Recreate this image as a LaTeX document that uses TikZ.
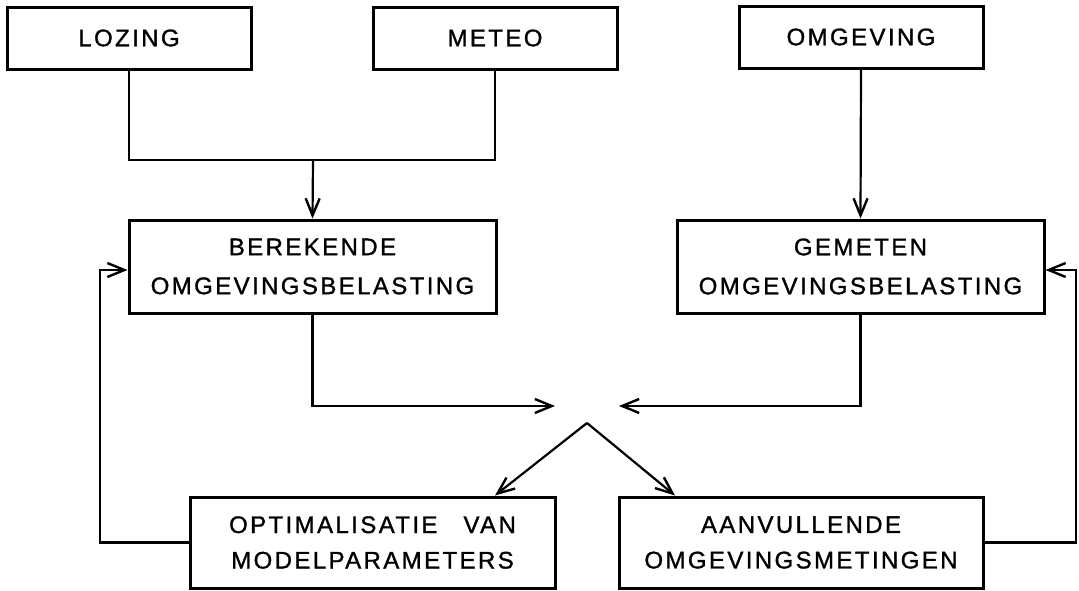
\documentclass[tikz,border=0pt]{standalone}
\usepackage{fontspec}
\newfontfamily\lab[LetterSpace=10,FakeBold=1.2]{Liberation Sans}
\usetikzlibrary{arrows.meta}
\begin{document}
\begin{tikzpicture}[x=1pt,y=-1pt,
  box/.style={draw, line width=3pt, rectangle, inner sep=0pt, align=center},
  topbox/.style={box, minimum width=244pt, minimum height=62pt, font={\lab\fontsize{24pt}{39pt}\selectfont}},
  midbox/.style={box, minimum width=367pt, minimum height=93pt, font={\lab\fontsize{24pt}{39pt}\selectfont}},
  botbox/.style={box, minimum height=91pt, font={\lab\fontsize{24pt}{35.5pt}\selectfont}},
  conn/.style={line width=2.2pt},
  arr/.style={conn, -{Straight Barb[length=17pt,width=14pt,line width=2.4pt]}}
]
\useasboundingbox (0,0) rectangle (1079,590);

\node[topbox] (loz) at (129,38) {LOZING};
\node[topbox] (met) at (495,38) {METEO};
\node[topbox] (omg) at (861,37) {OMGEVING};

\node[midbox] (ber) at (312.5,266.5) {BEREKENDE\\OMGEVINGSBELASTING};
\node[midbox] (gem) at (860.5,266.5) {GEMETEN\\OMGEVINGSBELASTING};

\node[botbox, minimum width=365pt] (opt) at (372.5,542.5) {OPTIMALISATIE\hspace{26pt}VAN\\MODELPARAMETERS};
\node[botbox, minimum width=364pt] (aan) at (801,542.5) {AANVULLENDE\\OMGEVINGSMETINGEN};

\coordinate (j1) at (313,160);
\coordinate (cl) at (555,406);
\coordinate (cr) at (619,406);
\coordinate (apex) at (587,423);
\coordinate (fl) at (100,270);
\coordinate (fr) at (1076,270);

% top connectors
\draw[conn] (loz.south) |- (j1) -| (met.south);
\draw[arr] (j1) -- (ber.north);
\draw[arr] (omg.south) -- (gem.north);

% to the centre
\draw[arr] (ber.south) |- (cl);
\draw[arr] (gem.south) |- (cr);

% from apex
\draw[arr] (apex) -- ([xshift=122.5pt]opt.north);
\draw[arr] (apex) -- ([xshift=-126pt]aan.north);

% feedback loops
\draw[arr] (opt.west) -| (fl) -- (fl -| ber.west);
\draw[arr] (aan.east) -| (fr) -- (fr -| gem.east);
\end{tikzpicture}
\end{document}
